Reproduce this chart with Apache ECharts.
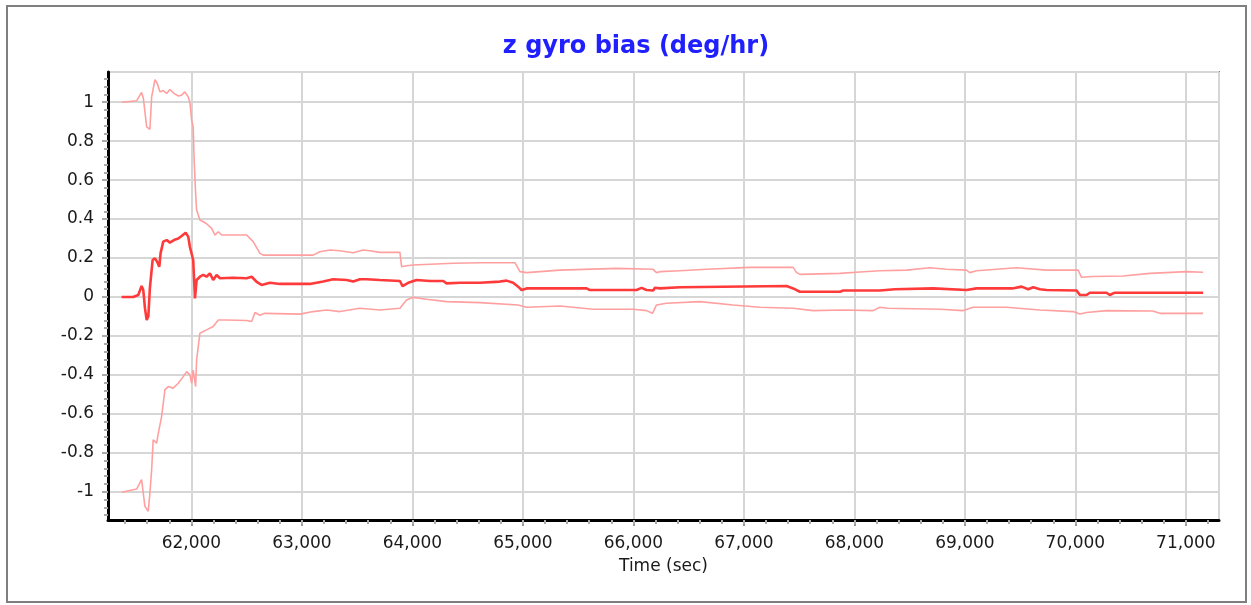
<!DOCTYPE html>
<html>
<head>
<meta charset="utf-8">
<script src="https://cdn.jsdelivr.net/npm/echarts@6/dist/echarts.min.js"></script>
<style>
html,body{margin:0;padding:0;background:#fff;}
#chart{position:absolute;left:0;top:0;width:1251px;height:605px;}
#frame{position:absolute;left:6px;top:5px;width:1241px;height:598px;box-sizing:border-box;border:2px solid #7f7f7f;pointer-events:none;}
</style>
</head>
<body>
<div id="chart"></div>
<div id="frame"></div>
<script>
// ---- data (time in sec, bias in deg/hr) ----
const titleText = 'z gyro bias (deg/hr)';
const xAxisName = 'Time (sec)';

const biasT = [61368,61473,61519,61549,61564,61580,61595,61610,61624,61649,61670,61691,61709,61721,61745,61776,61805,61842,61881,61911,61948,61971,61986,62002,62016,62032,62047,62077,62107,62137,62167,62197,62228,62258,62378,62500,62545,62590,62635,62710,62801,63072,63193,63283,63405,63464,63525,63585,63706,63887,63911,63962,64038,64158,64279,64309,64430,64611,64792,64852,64912,64957,64988,65033,65576,65606,66029,66074,66119,66179,66195,66240,66421,66436,67386,67446,67507,67869,67899,68050,68231,68246,68365,68713,69015,69106,69377,69392,69430,69513,69573,69618,69679,69739,70011,70041,70101,70131,70282,70312,70357,71156];
const biasV = [0,0,0.01,0.056,0.036,-0.06,-0.118,-0.1,0.046,0.19,0.198,0.18,0.155,0.225,0.284,0.292,0.279,0.292,0.30,0.313,0.33,0.31,0.258,0.25,0.19,-0.007,0.087,0.104,0.113,0.104,0.121,0.087,0.113,0.096,0.099,0.096,0.104,0.078,0.062,0.073,0.067,0.067,0.079,0.091,0.087,0.079,0.091,0.091,0.087,0.082,0.056,0.073,0.087,0.082,0.082,0.07,0.073,0.073,0.079,0.084,0.073,0.053,0.036,0.044,0.044,0.036,0.036,0.047,0.036,0.033,0.047,0.044,0.05,0.056,0.056,0.044,0.027,0.027,0.033,0.033,0.033,0.039,0.04,0.044,0.036,0.044,0.044,0.053,0.044,0.053,0.04,0.05,0.04,0.036,0.033,0.01,0.01,0.022,0.022,0.01,0.022,0.022];

const upperT = [61368,61504,61549,61565,61595,61624,61640,61670,61691,61715,61745,61776,61805,61842,61881,61911,61941,61971,61986,62002,62016,62025,62038,62047,62077,62107,62137,62183,62213,62243,62273,62500,62559,62620,62650,63102,63163,63253,63344,63464,63555,63615,63706,63887,63902,63947,64007,64369,64611,64928,64973,65033,65335,65848,66179,66209,66240,66421,66662,67054,67446,67477,67507,67869,68050,68231,68472,68683,68833,69015,69045,69106,69468,69739,70025,70056,70161,70433,70674,71006,71156];
const upperV = [1.0,1.007,1.05,1.02,0.873,0.86,1.027,1.116,1.096,1.053,1.06,1.045,1.065,1.045,1.032,1.036,1.053,1.027,1.0,0.908,0.873,0.70,0.53,0.446,0.395,0.386,0.376,0.352,0.318,0.335,0.318,0.318,0.284,0.224,0.215,0.215,0.232,0.241,0.237,0.227,0.241,0.237,0.229,0.229,0.155,0.16,0.164,0.173,0.176,0.176,0.13,0.125,0.138,0.147,0.142,0.125,0.13,0.135,0.142,0.152,0.152,0.125,0.116,0.121,0.128,0.135,0.138,0.15,0.142,0.138,0.125,0.135,0.15,0.138,0.138,0.101,0.105,0.108,0.121,0.13,0.127];

const lowerT = [61368,61504,61549,61579,61609,61624,61640,61654,61685,61700,61730,61760,61790,61835,61881,61926,61957,61986,62002,62016,62038,62047,62077,62137,62197,62243,62318,62500,62545,62575,62620,62665,62982,63102,63223,63344,63525,63706,63887,63947,64007,64128,64309,64611,64957,65033,65335,65636,65998,66119,66173,66209,66300,66602,66903,67145,67446,67627,67899,68170,68231,68300,68778,68985,69075,69377,69679,69980,70041,70101,70282,70700,70765,71156];
const lowerV = [-1.003,-0.986,-0.938,-1.075,-1.10,-1.007,-0.887,-0.733,-0.75,-0.70,-0.614,-0.477,-0.46,-0.468,-0.443,-0.409,-0.383,-0.40,-0.443,-0.375,-0.46,-0.323,-0.186,-0.169,-0.152,-0.118,-0.118,-0.121,-0.126,-0.08,-0.094,-0.084,-0.088,-0.075,-0.067,-0.075,-0.058,-0.067,-0.058,-0.015,-0.002,-0.012,-0.024,-0.029,-0.041,-0.053,-0.046,-0.063,-0.063,-0.07,-0.084,-0.041,-0.032,-0.024,-0.041,-0.053,-0.058,-0.07,-0.067,-0.07,-0.053,-0.058,-0.063,-0.07,-0.053,-0.053,-0.067,-0.075,-0.087,-0.08,-0.07,-0.072,-0.084,-0.084];

const xMin = 61245, xMax = 71300, xStep = 1000, xMinorStep = 200;
const yMin = -1.145, yMax = 1.155, yStep = 0.2, yMinorStep = 0.04;

// minor tick positions
const xMinor = [];
for (let v = Math.ceil(xMin / xMinorStep) * xMinorStep; v <= xMax; v += xMinorStep) xMinor.push(v);
const yMinor = [];
for (let i = Math.ceil(yMin / yMinorStep); i * yMinorStep <= yMax; i++) yMinor.push(+(i * yMinorStep).toFixed(2));

const zip = (t, v) => t.map((x, i) => [x, v[i]]);

const FONT = 'DejaVu Sans';
const chart = echarts.init(document.getElementById('chart'), null, {renderer: 'canvas'});
chart.setOption({
  animation: false,
  backgroundColor: '#ffffff',
  title: {
    text: titleText,
    left: 636, top: 35, padding: 0, textAlign: 'center',
    textStyle: {fontFamily: FONT, fontWeight: 'bold', fontSize: 24, color: '#2020ff'}
  },
  grid: {left: 108, top: 72, width: 1111, height: 448, show: true, borderColor: '#7f7f7f', borderWidth: 2, containLabel: false},
  xAxis: [{
    type: 'value', min: xMin, max: xMax, splitNumber: 10, minInterval: xStep, maxInterval: xStep,
    name: xAxisName, nameLocation: 'middle', nameGap: 38,
    nameTextStyle: {fontFamily: FONT, fontSize: 17, color: '#1a1a1a'},
    axisLine: {show: true, onZero: false, lineStyle: {color: '#000', width: 3}},
    axisTick: {show: true, length: 6, lineStyle: {color: '#999', width: 2}},
    axisLabel: {showMinLabel: false, showMaxLabel: false, margin: 15, fontFamily: FONT, fontSize: 17, color: '#1a1a1a'},
    splitLine: {show: true, lineStyle: {color: '#d6d6d6', width: 2}}
  }, {
    type: 'value', min: xMin, max: xMax, position: 'bottom', gridIndex: 0,
    axisLine: {show: false, onZero: false}, axisLabel: {show: false}, splitLine: {show: false},
    axisTick: {show: true, length: 4, customValues: xMinor, lineStyle: {color: '#aaa', width: 2}}
  }],
  yAxis: [{
    type: 'value', min: yMin, max: yMax, splitNumber: 11, minInterval: yStep, maxInterval: yStep,
    axisLine: {show: true, onZero: false, lineStyle: {color: '#000', width: 3}},
    axisTick: {show: true, length: 6, lineStyle: {color: '#aaa', width: 2}},
    axisLabel: {showMinLabel: false, showMaxLabel: false, margin: 14, fontFamily: FONT, fontSize: 17, color: '#1a1a1a'},
    splitLine: {show: true, lineStyle: {color: '#d6d6d6', width: 2}}
  }, {
    type: 'value', min: yMin, max: yMax, position: 'left', gridIndex: 0,
    axisLine: {show: false, onZero: false}, axisLabel: {show: false}, splitLine: {show: false},
    axisTick: {show: true, length: 4, customValues: yMinor, lineStyle: {color: '#aaa', width: 2}}
  }],
  series: [
    {name: 'upper', type: 'line', data: zip(upperT, upperV), showSymbol: false, symbol: 'none',
     lineStyle: {color: '#ffa0a0', width: 1.6}, z: 2},
    {name: 'lower', type: 'line', data: zip(lowerT, lowerV), showSymbol: false, symbol: 'none',
     lineStyle: {color: '#ffa0a0', width: 1.6}, z: 2},
    {name: 'bias', type: 'line', data: zip(biasT, biasV), showSymbol: false, symbol: 'none',
     lineStyle: {color: '#ff3a3a', width: 2.6}, z: 3}
  ]
});
</script>
</body>
</html>
